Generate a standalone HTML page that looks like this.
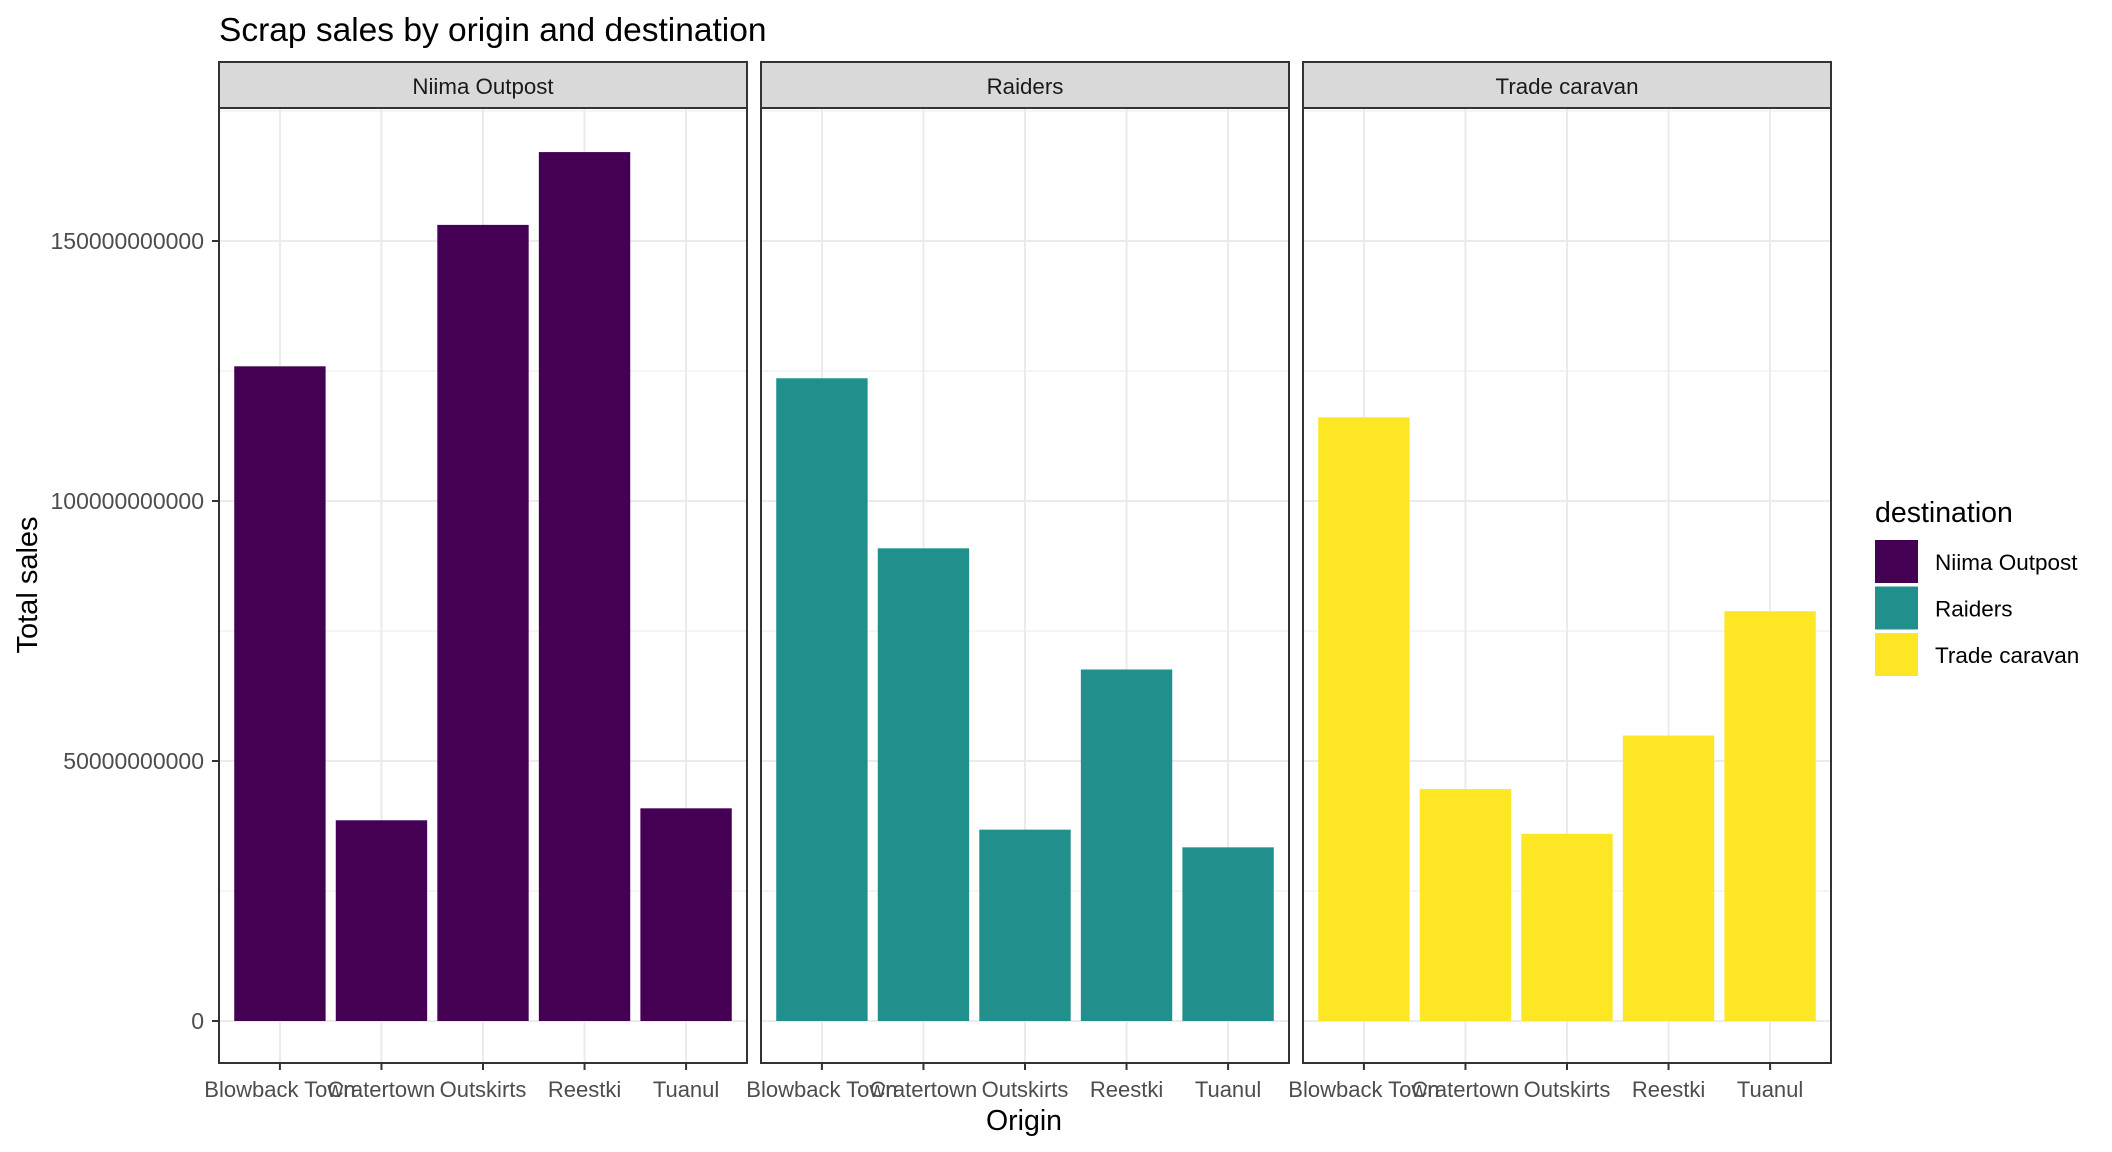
<!DOCTYPE html>
<html><head><meta charset="utf-8"><style>
html,body{margin:0;padding:0;background:#fff;}
svg{display:block;font-family:"Liberation Sans",Arial,sans-serif;}
</style></head><body>
<svg id="chart" width="2112" height="1152" viewBox="0 0 2112 1152">
<text x="219" y="41" font-size="33.5" fill="#000">Scrap sales by origin and destination</text>
<text x="1024" y="1130" font-size="28.5" fill="#000" text-anchor="middle">Origin</text>
<text transform="translate(37,585) rotate(-90)" font-size="29" fill="#000" text-anchor="middle">Total sales</text>
<g id="panels"></g>
<g id="legend">
<text x="1875" y="522" font-size="28.5" fill="#000">destination</text>
</g>
</svg>
<script>
const categories = ["Blowback Town","Cratertown","Outskirts","Reestki","Tuanul"];
const facets = ["Niima Outpost","Raiders","Trade caravan"];
const colors = ["#440154","#21908C","#FDE725"];
const niimaValues = [125.9e9, 38.6e9, 153.1e9, 167.1e9, 40.9e9];
const raidersValues = [123.6e9, 90.9e9, 36.8e9, 67.6e9, 33.4e9];
const tradeValues = [116.1e9, 44.6e9, 36.0e9, 54.9e9, 78.8e9];
const yTicks = [0, 50e9, 100e9, 150e9];
const yTickLabels = ["0","50000000000","100000000000","150000000000"];

const NS = "http://www.w3.org/2000/svg";
const panelsG = document.getElementById("panels");
const series = [niimaValues, raidersValues, tradeValues];
const panelW = 528, panelGap = 14, panelX0 = 219;
const stripTop = 62, plotTop = 108, plotBot = 1063;
function y(v){ return 1021 - v / 50e9 * 260; }
function mk(tag, attrs, parent){ const e = document.createElementNS(NS, tag); for (const k in attrs) e.setAttribute(k, attrs[k]); parent.appendChild(e); return e; }
const step = panelW / (categories.length + 0.2);
function x(px, i){ return px + step * (0.6 + i); }

facets.forEach((f, p) => {
  const px = panelX0 + p * (panelW + panelGap);
  const g = mk("g", {}, panelsG);
  
  
  for (let i = 0; i < yTicks.length; i++) {
    const mv = yTicks[i] + 25e9;
    if (y(mv) > plotTop) mk("line", {x1:px, x2:px+panelW, y1:y(mv), y2:y(mv), stroke:"#ebebeb", "stroke-width":1}, g);
  }
  yTicks.forEach(t => mk("line", {x1:px, x2:px+panelW, y1:y(t), y2:y(t), stroke:"#ebebeb", "stroke-width":2}, g));
  categories.forEach((c, i) => mk("line", {x1:x(px,i), x2:x(px,i), y1:plotTop, y2:plotBot, stroke:"#ebebeb", "stroke-width":2}, g));
  series[p].forEach((v, i) => {
    const r = mk("rect", {x:x(px,i)-step*0.45, width:step*0.9, y:y(v), height:y(0)-y(v), fill:colors[p]}, g);
    
    
  });
  mk("rect", {x:px, y:plotTop, width:panelW, height:plotBot-plotTop, fill:"none", stroke:"#333", "stroke-width":2}, g);
  const strip = mk("rect", {x:px, y:stripTop, width:panelW, height:plotTop-stripTop, fill:"#d9d9d9", stroke:"#333", "stroke-width":2}, g);
  
  
  const st = mk("text", {x:px+panelW/2, y:94, "font-size":22.3, "text-anchor":"middle", fill:"#1a1a1a"}, g);
  st.textContent = f;
  
  
  categories.forEach((c, i) => {
    mk("line", {x1:x(px,i), x2:x(px,i), y1:plotBot, y2:plotBot+7, stroke:"#333", "stroke-width":2}, g);
    const t = mk("text", {x:x(px,i), y:1097, "font-size":22, "text-anchor":"middle", fill:"#4d4d4d"}, g);
    t.textContent = c;
    
    
  });
});
yTicks.forEach((t, i) => {
  mk("line", {x1:212, x2:219, y1:y(t), y2:y(t), stroke:"#333", "stroke-width":2}, panelsG);
  const tl = mk("text", {x:204, y:y(t)+8, "font-size":23, "text-anchor":"end", fill:"#4d4d4d"}, panelsG);
  tl.textContent = yTickLabels[i];
  
  
});
const legend = document.getElementById("legend");
facets.forEach((f, i) => {
  const ky = 540 + i * 46.5;
  const k = mk("rect", {x:1875, y:ky, width:43, height:43, fill:colors[i]}, legend);
  
  
  const t = mk("text", {x:1935, y:ky+30, "font-size":22.5, fill:"#000"}, legend);
  t.textContent = f;
  
  
});
</script>
</body></html>
